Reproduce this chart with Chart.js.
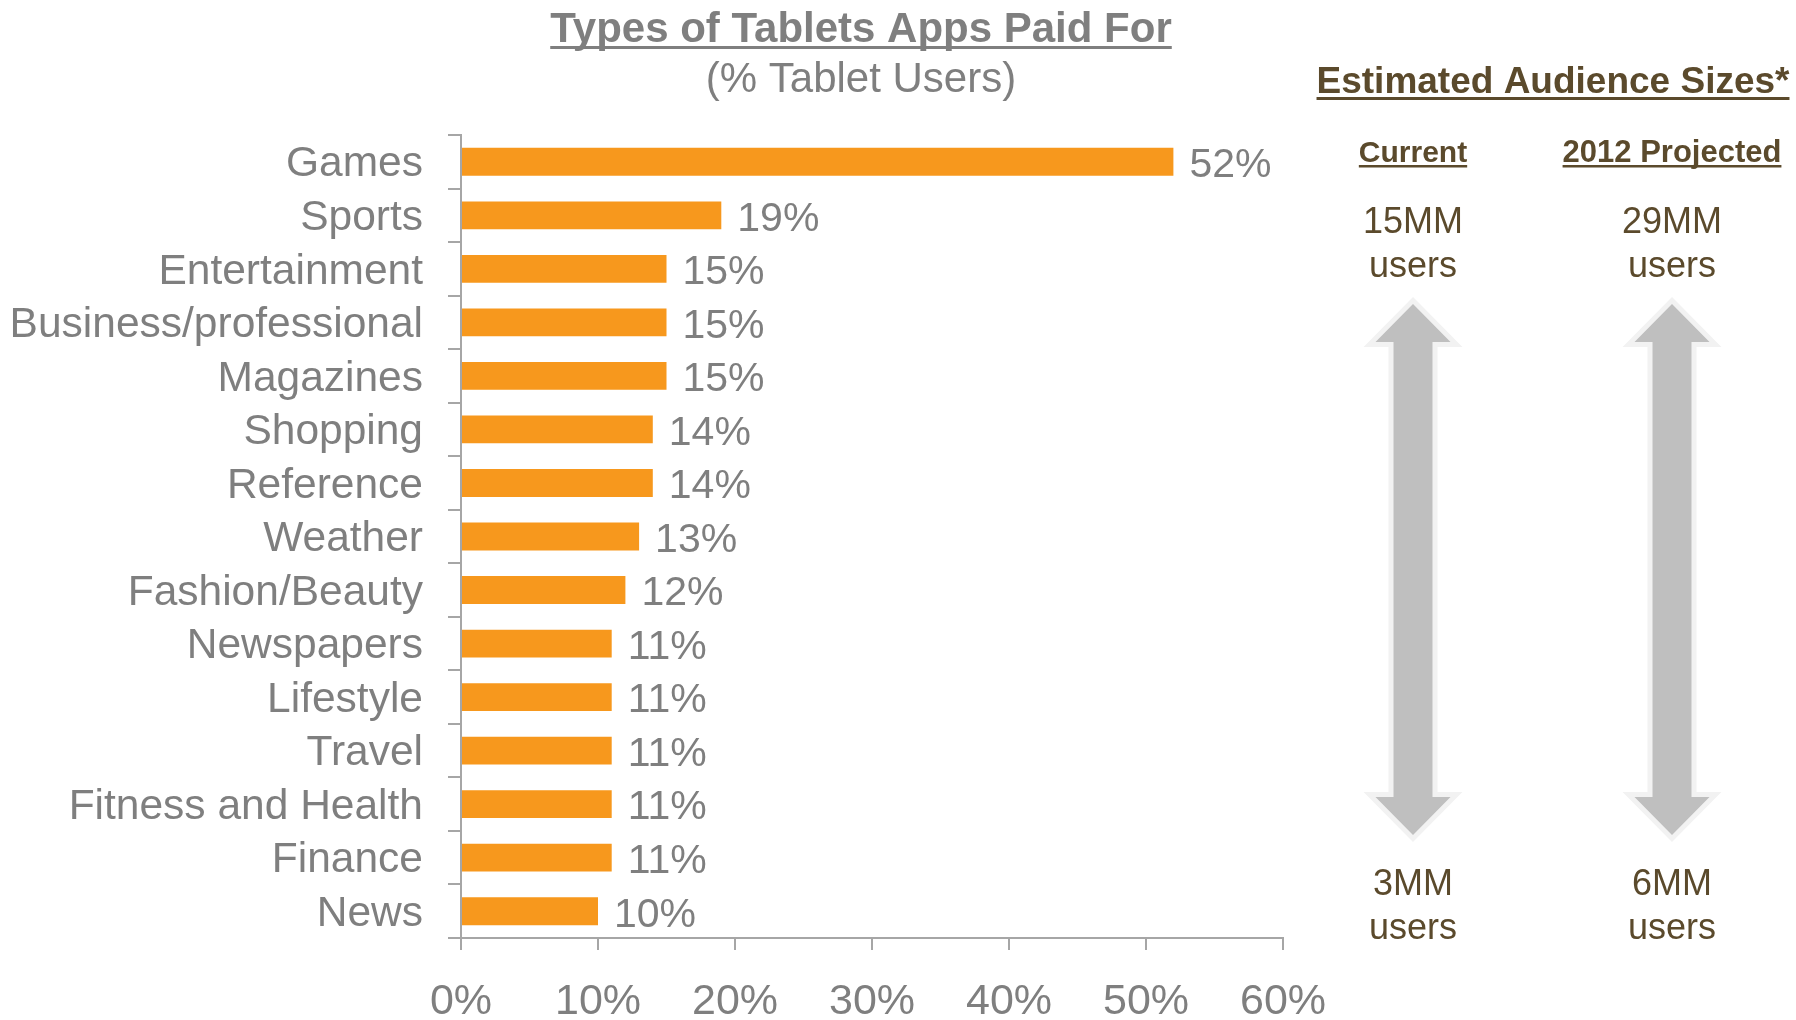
<!DOCTYPE html>
<html>
<head>
<meta charset="utf-8">
<script src="https://cdn.jsdelivr.net/npm/chart.js@4.4.1/dist/chart.umd.min.js"></script>
<style>
  html, body { margin: 0; padding: 0; background: #fff; }
  #wrap { width: 1796px; height: 1020px; position: relative; }
</style>
</head>
<body>
<div id="wrap"><canvas id="appsChart" width="1796" height="1020"></canvas></div>
<script>
// chart data
const categories = ["Games", "Sports", "Entertainment", "Business/professional", "Magazines",
  "Shopping", "Reference", "Weather", "Fashion/Beauty", "Newspapers", "Lifestyle",
  "Travel", "Fitness and Health", "Finance", "News"];
const paidShare = [52, 19, 15, 15, 15, 14, 14, 13, 12, 11, 11, 11, 11, 11, 10];
const xTicks = [0, 10, 20, 30, 40, 50, 60];

// audience side panel
const audienceCols = ["Current", "2012 Projected"];
const audienceHigh = ["15MM", "29MM"];
const audienceLow = ["3MM", "6MM"];

const grey = "#7f7f7f";
const brown = "#5b4a2c";
const orange = "#f7981d";
const axisGrey = "#a6a6a6";

function underlined(ctx, text, x, y, font, color, lw, gap) {
  ctx.font = font;
  ctx.fillStyle = color;
  ctx.textAlign = "center";
  ctx.textBaseline = "alphabetic";
  ctx.fillText(text, x, y);
  let w = ctx.measureText(text).width;
  ctx.fillRect(x - w / 2, y + gap, w, lw);
}

function arrow(ctx, cx, top, bottom) {
  // inner shape, outlined with a light border
  let hw = 37.5, sw = 19.5, hh = 38;
  ctx.beginPath();
  ctx.moveTo(cx, top);
  ctx.lineTo(cx + hw, top + hh);
  ctx.lineTo(cx + sw, top + hh);
  ctx.lineTo(cx + sw, bottom - hh);
  ctx.lineTo(cx + hw, bottom - hh);
  ctx.lineTo(cx, bottom);
  ctx.lineTo(cx - hw, bottom - hh);
  ctx.lineTo(cx - sw, bottom - hh);
  ctx.lineTo(cx - sw, top + hh);
  ctx.lineTo(cx - hw, top + hh);
  ctx.closePath();
  ctx.lineJoin = "miter";
  ctx.lineWidth = 10;
  ctx.strokeStyle = "#f2f2f2";
  ctx.stroke();
  ctx.fillStyle = "#bfbfbf";
  ctx.fill();
}

const decorations = {
  id: "decorations",
  afterDatasetsDraw(chart) {
    const ctx = chart.ctx;
    const meta = chart.getDatasetMeta(0);
    ctx.save();
    // value labels
    ctx.font = "41px 'Liberation Sans', Arial, sans-serif";
    ctx.fillStyle = grey;
    ctx.textAlign = "left";
    ctx.textBaseline = "middle";
    meta.data.forEach(function(bar, i) {
      ctx.fillText(paidShare[i] + "%", bar.x + 16, bar.y + 4);
    });
    ctx.restore();
  },
  afterDraw(chart) {
    const ctx = chart.ctx;
    ctx.save();
    // titles
    underlined(ctx, "Types of Tablets Apps Paid For", 861, 42, "bold 42px 'Liberation Sans', Arial, sans-serif", grey, 3, 4);
    ctx.font = "42px 'Liberation Sans', Arial, sans-serif";
    ctx.fillStyle = grey;
    ctx.textAlign = "center";
    ctx.textBaseline = "alphabetic";
    ctx.fillText("(% Tablet Users)", 861, 92);

    // right panel
    underlined(ctx, "Estimated Audience Sizes*", 1553, 93, "bold 37px 'Liberation Sans', Arial, sans-serif", brown, 3, 4);
    let colX = [1413, 1672];
    let colFont = ["bold 30px 'Liberation Sans', Arial, sans-serif", "bold 31px 'Liberation Sans', Arial, sans-serif"];
    for (let i = 0; i < 2; i++) {
      underlined(ctx, audienceCols[i], colX[i], 162, colFont[i], brown, 2.5, 3);
      ctx.font = "36px 'Liberation Sans', Arial, sans-serif";
      ctx.fillStyle = brown;
      ctx.textAlign = "center";
      ctx.fillText(audienceHigh[i], colX[i], 233);
      ctx.fillText("users", colX[i], 277);
      ctx.fillText(audienceLow[i], colX[i], 895);
      ctx.fillText("users", colX[i], 939);
      arrow(ctx, colX[i], 304, 835);
    }
    ctx.restore();
  }
};

const ctx = document.getElementById("appsChart").getContext("2d");
new Chart(ctx, {
  type: "bar",
  data: {
    labels: categories,
    datasets: [{
      data: paidShare,
      backgroundColor: orange,
      borderWidth: 0,
      barPercentage: 0.52,
      categoryPercentage: 1
    }]
  },
  options: {
    indexAxis: "y",
    responsive: false,
    devicePixelRatio: 1,
    animation: false,
    layout: { padding: { top: 135, right: 513, left: 0, bottom: 0 } },
    plugins: { legend: { display: false }, tooltip: { enabled: false } },
    scales: {
      x: {
        min: 0,
        max: 60,
        afterBuildTicks: function(scale) {
          scale.ticks = xTicks.map(v => ({ value: v }));
        },
        afterFit: function(scale) { scale.height = 82; },
        ticks: {
          callback: val => val + "%",
          color: grey,
          font: { family: "'Liberation Sans', Arial, sans-serif", size: 43 },
          padding: 26,
          maxRotation: 0,
          autoSkip: false
        },
        grid: { drawOnChartArea: false, tickLength: 12, color: axisGrey, lineWidth: 2 },
        border: { color: axisGrey, width: 2 }
      },
      y: {
        afterFit: function(scale) { scale.width = 461; },
        ticks: {
          color: grey,
          font: { family: "'Liberation Sans', Arial, sans-serif", size: 42.5 },
          padding: 25,
          labelOffset: 3,
          autoSkip: false
        },
        grid: { drawOnChartArea: false, tickLength: 13, color: axisGrey, lineWidth: 2 },
        border: { color: axisGrey, width: 2 }
      }
    }
  },
  plugins: [decorations]
});
</script>
</body>
</html>
